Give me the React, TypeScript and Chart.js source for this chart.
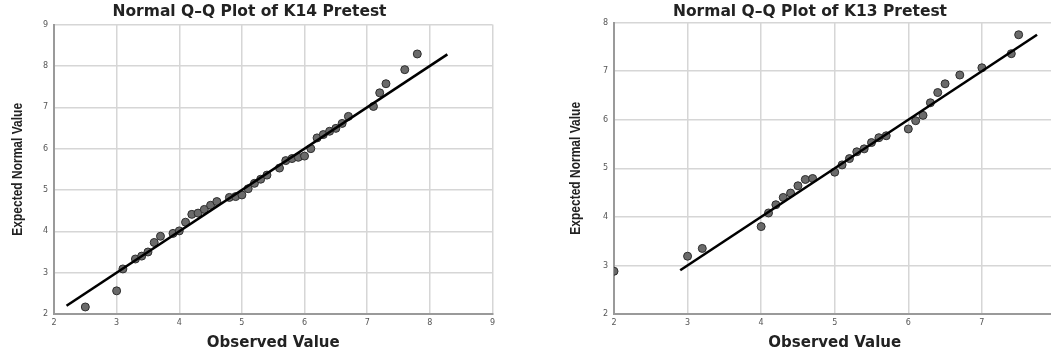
import React, { useEffect, useRef } from "react";
import { Chart, registerables } from "chart.js";

Chart.register(...registerables);

const leftTitle = "Normal Q–Q Plot of K14 Pretest";
const rightTitle = "Normal Q–Q Plot of K13 Pretest";
const xTitle = "Observed Value";
const yTitle = "Expected Normal Value";

const leftObserved = [2.5, 3.0, 3.1, 3.3, 3.4, 3.5, 3.6, 3.7, 3.9, 4.0, 4.1, 4.2, 4.3, 4.4, 4.5, 4.6, 4.8, 4.9, 5.0, 5.1, 5.2, 5.3, 5.4, 5.6, 5.7, 5.8, 5.9, 6.0, 6.1, 6.2, 6.3, 6.4, 6.5, 6.6, 6.7, 7.1, 7.2, 7.3, 7.6, 7.8];
const leftExpected = [2.17, 2.56, 3.09, 3.33, 3.40, 3.50, 3.73, 3.88, 3.95, 4.01, 4.22, 4.41, 4.44, 4.53, 4.63, 4.72, 4.82, 4.84, 4.88, 5.03, 5.16, 5.26, 5.36, 5.53, 5.71, 5.76, 5.79, 5.82, 6.00, 6.26, 6.34, 6.42, 6.49, 6.61, 6.78, 7.02, 7.35, 7.57, 7.91, 8.29];
const leftLine = [2.2, 8.28];
const leftRange = [2, 9];

const rightObserved = [2.0, 3.0, 3.2, 4.0, 4.1, 4.2, 4.3, 4.4, 4.5, 4.6, 4.7, 5.0, 5.1, 5.2, 5.3, 5.4, 5.5, 5.6, 5.7, 6.0, 6.1, 6.2, 6.3, 6.4, 6.5, 6.7, 7.0, 7.4, 7.5];
const rightExpected = [2.88, 3.19, 3.35, 3.80, 4.08, 4.25, 4.40, 4.49, 4.64, 4.77, 4.79, 4.92, 5.07, 5.20, 5.34, 5.40, 5.53, 5.63, 5.67, 5.81, 5.98, 6.09, 6.35, 6.56, 6.74, 6.92, 7.07, 7.36, 7.75];
const rightLine = [2.9, 7.75];
const rightXRange = [2, 8];
const rightYRange = [2, 8];

type QQProps = {
  title: string;
  observed: number[];
  expected: number[];
  line: number[];
  xRange: number[];
  yRange: number[];
  yWidth: number;
  canvasWidth: number;
  titlePad: { top: number; bottom: number };
};

// Draws the vertical axis title in a narrow (condensed) bold face.
const narrowYTitle = {
  id: "narrowYTitle",
  afterDraw(chart: any) {
    const ctx = chart.ctx as CanvasRenderingContext2D;
    const ca = chart.chartArea;
    ctx.save();
    ctx.translate(18, (ca.top + ca.bottom) / 2);
    ctx.rotate(-Math.PI / 2);
    ctx.scale(0.8, 1);
    ctx.font = "bold 15px 'Liberation Sans', Arial, sans-serif";
    ctx.textAlign = "center";
    ctx.textBaseline = "middle";
    ctx.fillStyle = "#222";
    ctx.fillText(yTitle, 0, 0);
    ctx.restore();
  },
};

function QQChart(props: QQProps) {
  const ref = useRef<HTMLCanvasElement>(null);
  useEffect(() => {
    const { title, observed, expected, line, xRange, yRange, yWidth, titlePad } = props;
    const grid = {
      color: "#d6d6d6",
      lineWidth: 1.5,
      drawTicks: false,
    };
    const border = { color: "#9a9a9a", width: 2 };
    const tickFont = { family: "'DejaVu Sans', sans-serif", size: 8 };
    const chart = new Chart(ref.current as HTMLCanvasElement, {
      type: "scatter",
      data: {
        datasets: [
          {
            type: "line",
            data: line.map((v) => ({ x: v, y: v })),
            borderColor: "#000",
            borderWidth: 2.6,
            pointRadius: 0,
            showLine: true,
            fill: false,
          } as any,
          {
            data: observed.map((v, i) => ({ x: v, y: expected[i] })),
            backgroundColor: "#6a6a6a",
            borderColor: "#2e2e2e",
            borderWidth: 1,
            pointRadius: 4,
          },
        ],
      },
      plugins: [narrowYTitle],
      options: {
        animation: false,
        responsive: false,
        events: [],
        layout: { padding: 0 },
        plugins: {
          legend: { display: false },
          tooltip: { enabled: false },
          title: {
            display: true,
            text: title,
            color: "#222",
            font: { family: "'DejaVu Sans', sans-serif", size: 15.5, weight: "bold", lineHeight: 1.2 },
            padding: titlePad,
          },
        },
        scales: {
          x: {
            type: "linear",
            min: xRange[0],
            max: xRange[1],
            grid,
            border,
            ticks: { stepSize: 1, padding: 4, color: "#555", font: tickFont, maxRotation: 0 },
            title: {
              display: true,
              text: xTitle,
              color: "#222",
              font: { family: "'DejaVu Sans', sans-serif", size: 15, weight: "bold", lineHeight: 1.2 },
              padding: { top: 1, bottom: 1 },
            },
            afterFit: (s: any) => {
              s.height = 39;
            },
          },
          y: {
            type: "linear",
            min: yRange[0],
            max: yRange[1],
            grid,
            border,
            ticks: { stepSize: 1, padding: 6, color: "#555", font: tickFont },
            title: { display: false },
            afterFit: (s: any) => {
              s.width = yWidth;
            },
          },
        },
      } as any,
    });
    return () => chart.destroy();
  }, []);
  return <canvas ref={ref} width={props.canvasWidth} height={353} style={{ display: "block" }} />;
}

export default function App() {
  return (
    <div
      style={{
        position: "fixed",
        left: 0,
        top: 0,
        width: 1051,
        height: 353,
        overflow: "hidden",
        background: "#fff",
      }}
    >
      <div style={{ position: "absolute", left: 0, top: 0 }}>
        <QQChart
          title={leftTitle}
          observed={leftObserved}
          expected={leftExpected}
          line={leftLine}
          xRange={leftRange}
          yRange={leftRange}
          yWidth={54}
          canvasWidth={499}
          titlePad={{ top: 3, bottom: 3 }}
        />
      </div>
      <div style={{ position: "absolute", left: 558, top: 0 }}>
        <QQChart
          title={rightTitle}
          observed={rightObserved}
          expected={rightExpected}
          line={rightLine}
          xRange={rightXRange}
          yRange={rightYRange}
          yWidth={56}
          canvasWidth={504}
          titlePad={{ top: 3, bottom: 1 }}
        />
      </div>
    </div>
  );
}
